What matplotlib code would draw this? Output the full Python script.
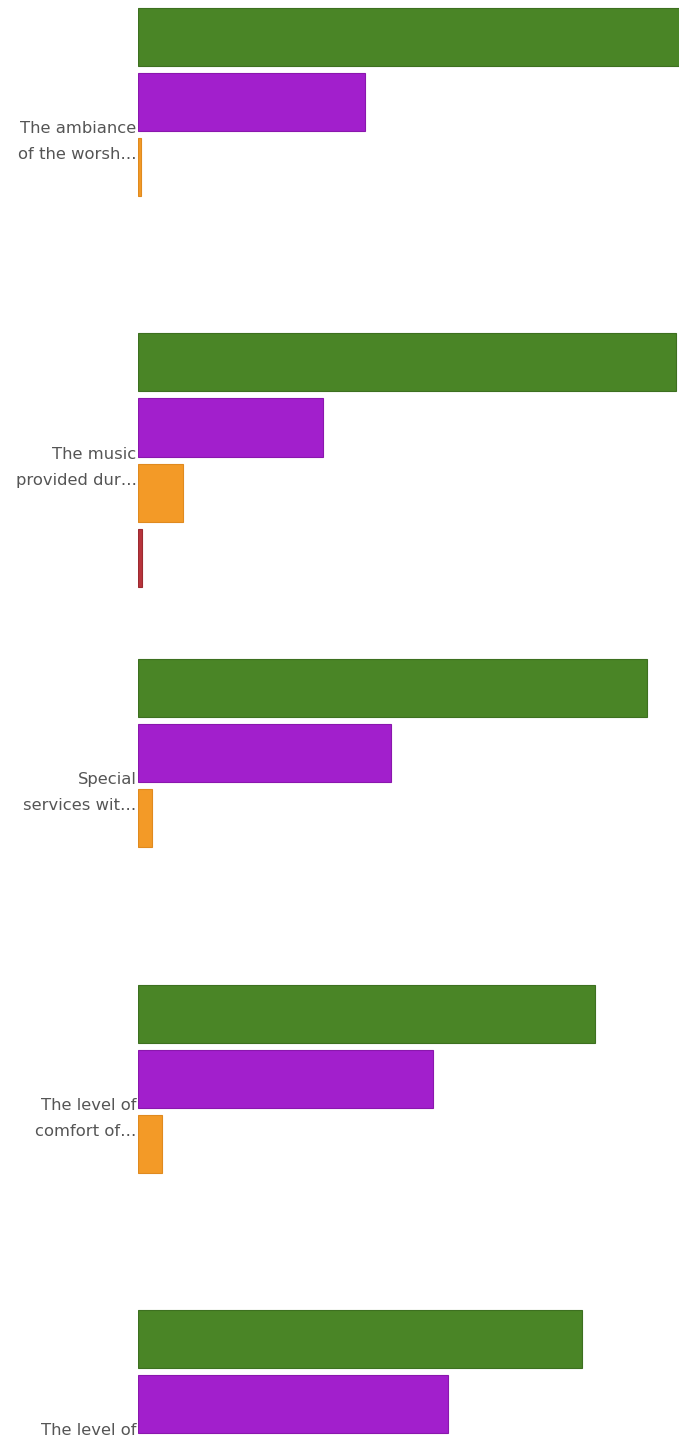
import matplotlib
matplotlib.use("Agg")
import matplotlib.pyplot as plt
import numpy as np

categories = [
    "The ambiance\nof the worsh\u2026",
    "The music\nprovided dur\u2026",
    "Special\nservices wit\u2026",
    "The level of\ncomfort of\u2026",
    "The level of\nservice of\u2026",
]
series_names = ["Excellent", "Good", "Fair", "Poor"]
excellent = [80.6, 79.6, 75.3, 67.6, 65.7]
good = [33.6, 27.4, 37.4, 43.6, 45.8]
fair = [0.4, 6.7, 2.1, 3.5, 3.0]
poor = [0.0, 0.6, 0.0, 0.0, 0.0]

colors = ["#4a8526", "#a21fcc", "#f39a27", "#b8343c"]
edges = ["#3d7020", "#8a17ad", "#e08a1f", "#9c2a30"]

fig = plt.figure(figsize=(6.79, 14.37), dpi=100)
ax = fig.add_axes([138 / 679, 0, 541 / 679, 1])

series = [excellent, good, fair, poor]
y = np.arange(len(categories))
step = 65 / 325.5
height = 58 / 325.5
for k, vals in enumerate(series):
    lws = [0.8 if v > 0 else 0 for v in vals]
    ax.barh(y + (k - 1.5) * step, vals, height=height, color=colors[k],
            edgecolor=edges[k], linewidth=lws, label=series_names[k])

ax.set_xlim(0, 80)
ax.set_ylim(4.001, -0.413)
ax.set_yticks(y)
ax.set_yticklabels(categories, fontsize=11.8, color="#555555", linespacing=1.95)
ax.tick_params(axis="y", length=0, pad=1)
ax.set_xticks([])
for s in ax.spines.values():
    s.set_visible(False)

fig.savefig("out.png", dpi=100)
